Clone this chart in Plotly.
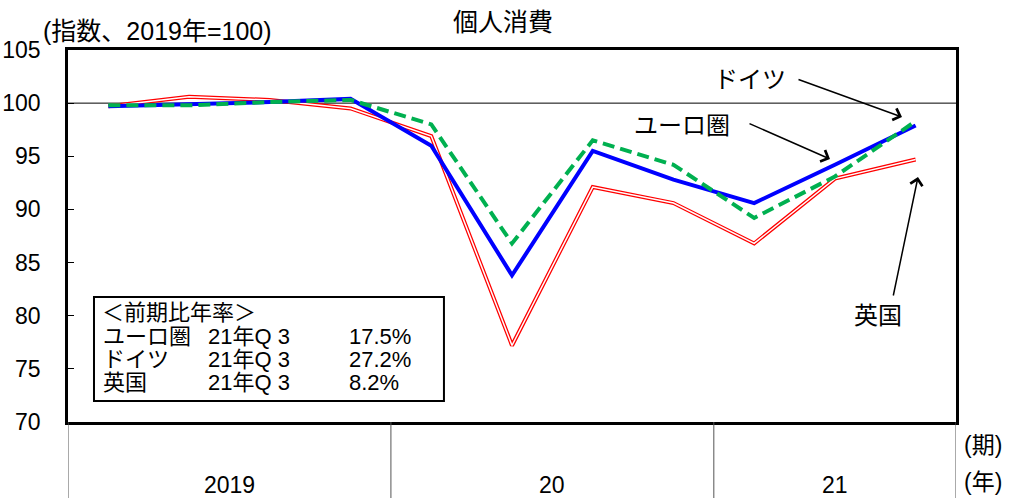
import plotly.graph_objects as go

# ---- data ----
quarters = ["2019Q1", "2019Q2", "2019Q3", "2019Q4", "2020Q1", "2020Q2", "2020Q3", "2020Q4",
            "2021Q1", "2021Q2", "2021Q3"]
euro = [99.7, 99.9, 100.1, 100.4, 96.0, 83.8, 95.5, 92.8, 90.6, 94.2, 97.9]
germany = [99.8, 99.8, 100.1, 100.3, 98.0, 86.8, 96.5, 94.2, 89.2, 93.1, 98.3]
uk = [99.7, 100.6, 100.3, 99.5, 96.9, 77.2, 92.1, 90.6, 86.8, 92.9, 94.7]
year_labels = ["2019", "20", "21"]
year_centers = [2.0, 6.0, 9.5]
year_bounds = [0, 4, 8, 11]
y_ticks = [70, 75, 80, 85, 90, 95, 100, 105]
box_rows = [["ユーロ圏", "21年Q 3", "17.5%"],
            ["ドイツ", "21年Q 3", "27.2%"],
            ["英国", "21年Q 3", "8.2%"]]

FONT = "Liberation Sans, Arial, Noto Sans CJK JP, sans-serif"
xpos = [i + 0.5 for i in range(len(quarters))]

fig = go.Figure()
# UK: double line (red outer, white inner)
fig.add_trace(go.Scatter(x=xpos, y=uk, mode="lines", line=dict(color="#FF0000", width=4),
                         showlegend=False, hoverinfo="skip"))
fig.add_trace(go.Scatter(x=xpos, y=uk, mode="lines", line=dict(color="#FFFFFF", width=1.5),
                         showlegend=False, name="英国"))
fig.add_trace(go.Scatter(x=xpos, y=euro, mode="lines", line=dict(color="#0000FF", width=4),
                         showlegend=False, name="ユーロ圏"))
fig.add_trace(go.Scatter(x=xpos, y=germany, mode="lines",
                         line=dict(color="#00B050", width=4, dash="12px,6px"),
                         showlegend=False, name="ドイツ"))

shapes = []
# reference line at 100
shapes.append(dict(type="line", xref="x", yref="y", x0=0, x1=11, y0=100, y1=100,
                   line=dict(color="black", width=1), layer="below"))
# year separators below the plot
for b in year_bounds:
    shapes.append(dict(type="line", xref="x", yref="paper", x0=b, x1=b, y0=0, y1=-0.21,
                       line=dict(color="#555555", width=1)))
# text box
shapes.append(dict(type="rect", xref="x", yref="y", x0=0.322, x1=4.657, y0=71.98, y1=81.76,
                   line=dict(color="black", width=2), fillcolor="white"))

ann = []
ann.append(dict(text="個人消費", xref="paper", yref="paper", x=0.49, y=1.075,
                showarrow=False, font=dict(size=25), xanchor="center", yanchor="middle"))
ann.append(dict(text="(指数、2019年=100)", xref="paper", yref="paper", x=0.101, y=1.051,
                showarrow=False, font=dict(size=25), xanchor="center", yanchor="middle"))
for t, c in zip(year_labels, year_centers):
    ann.append(dict(text=t, xref="x", yref="paper", x=c, y=-0.17, showarrow=False,
                    font=dict(size=23), xanchor="center", yanchor="middle"))
ann.append(dict(text="(期)", xref="paper", yref="paper", x=1.007, y=-0.062, showarrow=False,
                font=dict(size=23), xanchor="left", yanchor="middle"))
ann.append(dict(text="(年)", xref="paper", yref="paper", x=1.007, y=-0.161, showarrow=False,
                font=dict(size=23), xanchor="left", yanchor="middle"))

# box text
ann.append(dict(text="＜前期比年率＞", xref="x", yref="y", x=0.40, y=80.26, showarrow=False,
                font=dict(size=22), xanchor="left", yanchor="middle"))
row_y = [78.0, 75.84, 73.67]
col_x = [0.409, 1.709, 3.456]
for r, yy in zip(box_rows, row_y):
    for t, xx in zip(r, col_x):
        ann.append(dict(text=t, xref="x", yref="y", x=xx, y=yy, showarrow=False,
                        font=dict(size=22), xanchor="left", yanchor="middle"))

# series labels
ann.append(dict(text="ドイツ", xref="x", yref="y", x=8.45, y=102.2, showarrow=False,
                font=dict(size=24), xanchor="center", yanchor="middle"))
ann.append(dict(text="ユーロ圏", xref="x", yref="y", x=7.6, y=97.9, showarrow=False,
                font=dict(size=24), xanchor="center", yanchor="middle"))
ann.append(dict(text="英国", xref="x", yref="y", x=10.03, y=80.0, showarrow=False,
                font=dict(size=24), xanchor="center", yanchor="middle"))
# arrows (tail -> head)
arrows = [((797, 79), (902, 117)), ((748, 123), (830, 159)), ((893, 297), (918, 177))]
def px2d(px, py):
    return (px - 68) / (888 / 11), 105 - (py - 50) / (372 / 35)
for (t, h) in arrows:
    tx, ty = px2d(*t)
    hx, hy = px2d(*h)
    ann.append(dict(text="", xref="x", yref="y", x=hx, y=hy, axref="x", ayref="y", ax=tx, ay=ty,
                    showarrow=True, arrowhead=4, arrowsize=1.6, arrowwidth=1.5,
                    arrowcolor="black", standoff=0, startstandoff=0))

fig.update_layout(
    width=1011, height=498,
    margin=dict(l=68, r=55, t=50, b=76, autoexpand=False),
    paper_bgcolor="white", plot_bgcolor="white",
    font=dict(family=FONT, size=23, color="black"),
    shapes=shapes, annotations=ann, showlegend=False,
    xaxis=dict(range=[0, 11], showticklabels=False, ticks="", showgrid=False, zeroline=False,
               showline=True, linecolor="black", linewidth=2.5, mirror=True, fixedrange=True,
               automargin=False),
    yaxis=dict(range=[70, 105], tickvals=y_ticks, ticks="inside", ticklen=6, tickwidth=1,
               tickcolor="black", showgrid=False, zeroline=False, showline=True,
               linecolor="black", linewidth=2.5, mirror=True, ticklabelstandoff=20,
               tickfont=dict(size=23), fixedrange=True, automargin=False),
)
fig.write_html("out.html", config={"displayModeBar": False},
               post_script="document.body.style.margin='0';document.body.style.padding='0';")
